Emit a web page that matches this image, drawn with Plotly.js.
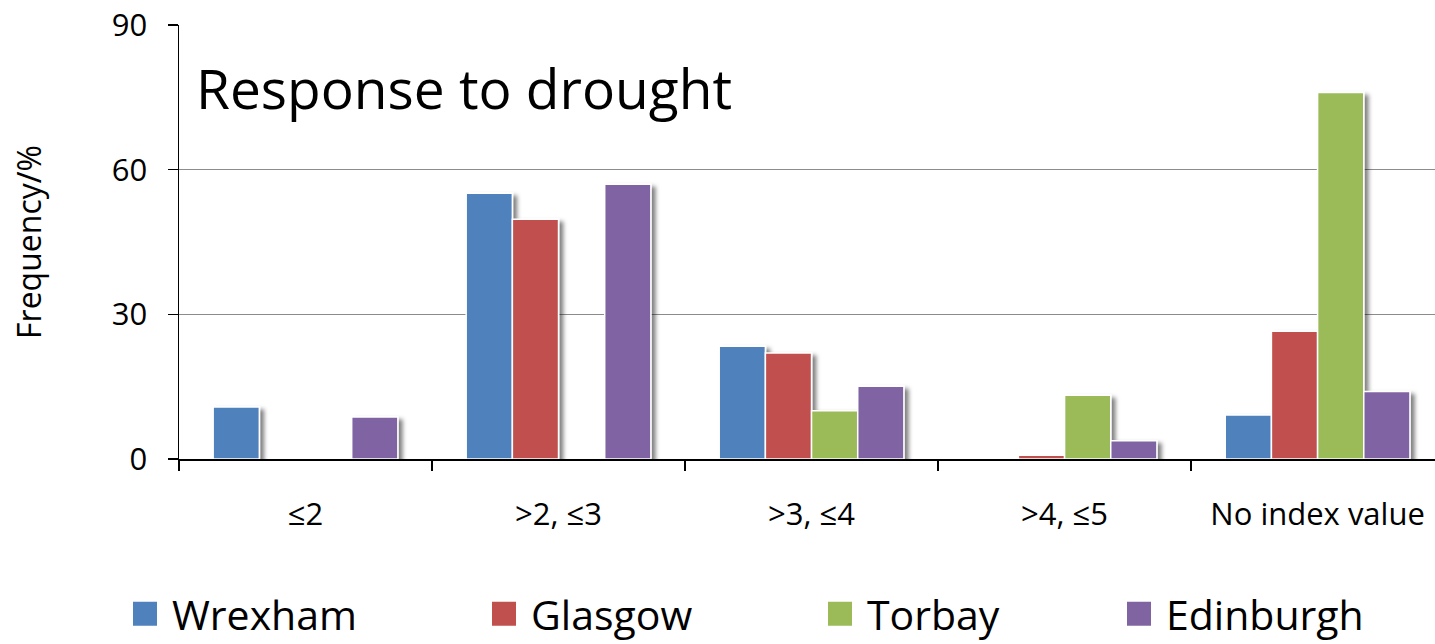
<!DOCTYPE html>
<html><head><meta charset="utf-8">
<script src="https://cdn.plot.ly/plotly-3.0.1.min.js"></script>
<style>
html,body{margin:0;padding:0;background:#fff;}
#chart{width:1435px;height:644px;}
</style></head>
<body>
<div id="chart"></div>
<script>
const categories = ["≤2", ">2, ≤3", ">3, ≤4", ">4, ≤5", "No index value"];
const seriesNames = ["Wrexham", "Glasgow", "Torbay", "Edinburgh"];
const wrexham   = [10.8, 55.1, 23.4, 0,    9.1];
const glasgow   = [0,    49.7, 22.0, 0.8, 26.5];
const torbay    = [0,    0,    10.0, 13.2, 76.0];
const edinburgh = [8.7,  57.0, 15.1, 3.8, 14.0];
const colors = ["#4f81bd", "#c0504d", "#9bbb59", "#8064a2"];
const yTicks = [0, 30, 60, 90];

const FONT = "'Open Sans', sans-serif";
const values = [wrexham, glasgow, torbay, edinburgh];
const legendIds = ["legend", "legend2", "legend3", "legend4"];
const legendLeft = [132, 491, 827, 1126];
const traces = values.map((v, i) => ({
  type: "bar", name: seriesNames[i], x: categories, y: v,
  marker: {color: colors[i], line: {color: "#ffffff", width: 1.5}},
  legend: legendIds[i], hoverinfo: "skip"
}));

const layout = {
  width: 1435, height: 644,
  margin: {l: 179, r: 0, t: 25, b: 185, pad: 0},
  paper_bgcolor: "#fff", plot_bgcolor: "#fff",
  font: {family: FONT, color: "#000"},
  barmode: "group", bargap: 0.27, bargroupgap: 0,
  title: {text: "Response to drought", font: {family: FONT, size: 55, color: "#000"},
          x: 196/1435, xanchor: "left", xref: "container", y: 1 - 90/644, yanchor: "middle", yref: "container"},
  xaxis: {
    type: "category", range: [-0.5, 4.464], fixedrange: true, automargin: false,
    showline: true, linecolor: "#000", linewidth: 1.5,
    ticks: "outside", tickson: "boundaries", ticklen: 10, tickwidth: 1.5, tickcolor: "#000",
    tickfont: {family: FONT, size: 31, color: "#000"}, ticklabelstandoff: 27,
    showgrid: false, zeroline: false
  },
  yaxis: {
    range: [0, 90], tickvals: yTicks, ticktext: yTicks.map(String), fixedrange: true, automargin: false,
    showline: true, linecolor: "#000", linewidth: 1.5,
    ticks: "outside", ticklen: 10, tickwidth: 1.5, tickcolor: "#000",
    tickfont: {family: FONT, size: 31, color: "#000"}, ticklabelstandoff: 14,
    showgrid: true, gridcolor: "#8c8c8c", gridwidth: 1.5, zeroline: false,
    title: {text: "Frequency/%", font: {family: FONT, size: 32, color: "#000"}, standoff: 60}
  },
  showlegend: true
};
legendIds.forEach((id, i) => {
  layout[id] = {orientation: "h", xref: "container", yref: "container", x: legendLeft[i]/1435, xanchor: "left",
                y: 1 - 614/644, yanchor: "middle",
                font: {family: FONT, size: 41, color: "#000"}, bgcolor: "rgba(0,0,0,0)"};
});

Plotly.newPlot("chart", traces, layout, {displayModeBar: false, staticPlot: true}).then(gd => {
  const NS = "http://www.w3.org/2000/svg";
  const svg = gd.querySelector("svg.main-svg");
  let defs = svg.querySelector("defs");
  if (!defs) { defs = document.createElementNS(NS, "defs"); svg.insertBefore(defs, svg.firstChild); }
  const f = document.createElementNS(NS, "filter");
  f.setAttribute("id", "barshadow");
  f.setAttribute("x", "-20%"); f.setAttribute("y", "-20%");
  f.setAttribute("width", "160%"); f.setAttribute("height", "140%");
  const ds = document.createElementNS(NS, "feDropShadow");
  ds.setAttribute("dx", "4"); ds.setAttribute("dy", "3"); ds.setAttribute("stdDeviation", "2");
  ds.setAttribute("flood-color", "#000"); ds.setAttribute("flood-opacity", "0.5");
  f.appendChild(ds); defs.appendChild(f);
  gd.querySelectorAll("g.trace.bars g.point path").forEach(p => p.setAttribute("filter", "url(#barshadow)"));
  gd.querySelectorAll(".legendpoints path").forEach(p => {
    p.setAttribute("d", "M5,12H-19V-12H5Z");
    p.style.strokeWidth = "0px";
    p.removeAttribute("filter");
  });
});
</script></body></html>
